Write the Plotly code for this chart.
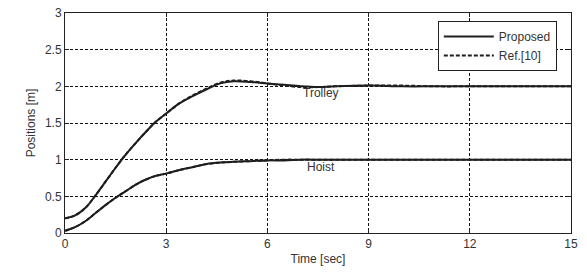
import plotly.graph_objects as go

time = [0, 0.3, 0.6, 0.9, 1.2, 1.5, 1.8, 2.1, 2.4, 2.7, 3.0, 3.4, 3.8, 4.2, 4.6, 5.0, 5.5, 6, 6.5, 7, 7.5, 8, 9, 10, 11, 12, 13, 14, 15]
trolley_prop = [0.20, 0.24, 0.34, 0.51, 0.70, 0.89, 1.07, 1.23, 1.38, 1.52, 1.63, 1.77, 1.87, 1.96, 2.04, 2.07, 2.06, 2.04, 2.02, 2.00, 1.99, 2.00, 2.01, 2.00, 2.00, 2.00, 2.00, 2.00, 2.00]
trolley_ref = [0.20, 0.24, 0.34, 0.51, 0.70, 0.89, 1.07, 1.23, 1.38, 1.52, 1.63, 1.77, 1.88, 1.97, 2.05, 2.08, 2.07, 2.04, 2.01, 1.99, 1.99, 2.00, 2.01, 2.01, 2.00, 2.00, 2.00, 2.00, 2.00]
hoist_prop = [0.03, 0.08, 0.16, 0.27, 0.38, 0.48, 0.57, 0.66, 0.73, 0.78, 0.81, 0.86, 0.90, 0.94, 0.96, 0.97, 0.98, 0.99, 0.99, 1.00, 1.00, 1.00, 1.00, 1.00, 1.00, 1.00, 1.00, 1.00, 1.00]
hoist_ref = [0.03, 0.08, 0.16, 0.27, 0.38, 0.48, 0.57, 0.66, 0.73, 0.78, 0.81, 0.86, 0.90, 0.94, 0.96, 0.97, 0.98, 0.99, 1.00, 1.00, 1.00, 1.00, 1.00, 1.00, 1.00, 1.00, 1.00, 1.00, 1.00]

x_ticks = [0, 3, 6, 9, 12, 15]
y_ticks = [0, 0.5, 1, 1.5, 2, 2.5, 3]
y_tick_labels = ["0", "0.5", "1", "1.5", "2", "2.5", "3"]

labels = [("Trolley", 7.6, 1.91), ("Hoist", 7.6, 0.90)]

FONT = "Arial, Liberation Sans, sans-serif"
LC = "#1e1e1e"

fig = go.Figure()
fig.add_trace(go.Scatter(x=time, y=trolley_prop, mode="lines", name="Proposed",
                         line=dict(color=LC, width=2, shape="spline", smoothing=1), legendgroup="p"))
fig.add_trace(go.Scatter(x=time, y=hoist_prop, mode="lines", name="Proposed", showlegend=False,
                         line=dict(color=LC, width=2, shape="spline", smoothing=1), legendgroup="p"))
fig.add_trace(go.Scatter(x=time, y=trolley_ref, mode="lines", name="Ref.[10]",
                         line=dict(color=LC, width=2, dash="4px,2px", shape="spline", smoothing=1), legendgroup="r"))
fig.add_trace(go.Scatter(x=time, y=hoist_ref, mode="lines", name="Ref.[10]", showlegend=False,
                         line=dict(color=LC, width=2, dash="4px,2px", shape="spline", smoothing=1), legendgroup="r"))

for txt, lx, ly in labels:
    fig.add_annotation(x=lx, y=ly, text=txt, showarrow=False,
                       font=dict(family=FONT, size=12, color="#333"))

axis_common = dict(showline=True, linecolor="#222", linewidth=1, mirror="allticks",
                   ticks="inside", ticklen=4, tickcolor="#222", automargin=False,
                   showgrid=True, gridcolor="#111", gridwidth=1, griddash="3px,2px",
                   zeroline=False, tickfont=dict(family=FONT, size=12, color="#333"))

fig.update_xaxes(range=[0, 15], tickvals=x_ticks, **axis_common,
                 title=dict(text="Time [sec]", font=dict(family=FONT, size=12, color="#333"), standoff=4))
fig.update_yaxes(range=[0, 3], tickvals=y_ticks, ticktext=y_tick_labels, **axis_common,
                 title=dict(text="Positions [m]", font=dict(family=FONT, size=12, color="#333"), standoff=6))

fig.update_layout(
    width=587, height=275,
    margin=dict(l=65, r=16, t=13, b=42),
    plot_bgcolor="white", paper_bgcolor="white",
    font=dict(family=FONT, size=12, color="#333"),
    legend=dict(x=0.972, y=0.964, xanchor="right", yanchor="top",
                bgcolor="white", bordercolor="#222", borderwidth=1,
                font=dict(family=FONT, size=12, color="#333"),
                tracegroupgap=0, itemwidth=50),
)

fig.write_html("out.html", config={"displayModeBar": False},
               post_script="document.body.style.margin='0';")
